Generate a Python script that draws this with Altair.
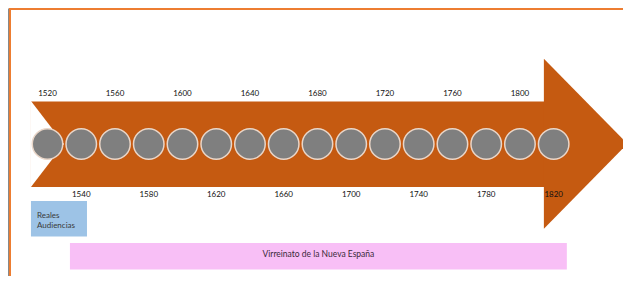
import altair as alt
import pandas as pd

# --- data ---
years = [1520, 1540, 1560, 1580, 1600, 1620, 1640, 1660,
         1680, 1700, 1720, 1740, 1760, 1780, 1800, 1820]
top_years = [1520, 1560, 1600, 1640, 1680, 1720, 1760, 1800]
bottom_years = [1540, 1580, 1620, 1660, 1700, 1740, 1780, 1820]

period_names = ["Reales Audiencias", "Virreinato de la Nueva España"]
period_start = [1510.2, 1533.3]
period_end = [1543.4, 1827.8]

# arrow extent (in years)
arrow_start = [1510.2]
arrow_head = [1814.2]

W, H = 615, 268
xs = alt.Scale(domain=[1496.59, 1861.08], nice=False, zero=False)
ys = alt.Scale(domain=[8, 276], reverse=True, nice=False, zero=False)

arrow_df = pd.DataFrame({"start": arrow_start, "head": arrow_head})
years_df = pd.DataFrame({"year": years})
top_df = pd.DataFrame({"year": top_years})
bot_df = pd.DataFrame({"year": bottom_years})
per_df = pd.DataFrame({"name": period_names, "start": period_start, "end": period_end})

ARROW = "#c55a11"
body = alt.Chart(arrow_df).transform_calculate(
    overlap="datum.head + 3"
).mark_rect(color=ARROW, opacity=1).encode(
    x=alt.X("start:Q", scale=xs, axis=None), x2="overlap:Q",
    y=alt.datum(101.5, scale=ys), y2=alt.datum(187),
)
head = alt.Chart(arrow_df).mark_point(
    shape="M0,-1L0.982,0L0,1Z", size=170 * 170, filled=True,
    color=ARROW, opacity=1, strokeWidth=0
).encode(
    x=alt.X("head:Q", scale=xs, axis=None),
    y=alt.datum(143.8, scale=ys),
)
notch = alt.Chart(arrow_df).mark_point(
    shape="M0,-1L0.767,0L0,1Z", size=86 * 86, filled=True,
    color="#ffffff", opacity=1, strokeWidth=0
).encode(
    x=alt.X("start:Q", scale=xs, axis=None),
    y=alt.datum(144, scale=ys),
)

circles = alt.Chart(years_df).mark_circle(
    size=930, color="#7f7f7f", opacity=1, stroke="#ead6c8", strokeWidth=1.5
).encode(
    x=alt.X("year:Q", scale=xs, axis=None),
    y=alt.datum(144, scale=ys),
)

label_style = dict(font="Lato", fontSize=8, color="#111111", align="center", baseline="middle")
top_labels = alt.Chart(top_df).mark_text(**label_style).encode(
    x=alt.X("year:Q", scale=xs, axis=None),
    y=alt.datum(93.5, scale=ys),
    text="year:N",
)
bot_labels = alt.Chart(bot_df).mark_text(**label_style).encode(
    x=alt.X("year:Q", scale=xs, axis=None),
    y=alt.datum(195, scale=ys),
    text="year:N",
)

blue = alt.Chart(per_df.iloc[[0]]).mark_rect(color="#9dc3e6", opacity=1).encode(
    x=alt.X("start:Q", scale=xs, axis=None), x2="end:Q",
    y=alt.datum(201, scale=ys), y2=alt.datum(236.5),
)
blue_text = alt.Chart(per_df.iloc[[0]]).transform_calculate(
    lbl="split(datum.name, ' ')"
).mark_text(font="Lato", fontSize=8, color="#3a3a3a", align="left",
            baseline="middle", dx=6, lineHeight=10.5).encode(
    x=alt.X("start:Q", scale=xs, axis=None),
    y=alt.datum(215.5, scale=ys),
    text="lbl:N",
)
pink = alt.Chart(per_df.iloc[[1]]).mark_rect(color="#f8bff6", opacity=1).encode(
    x=alt.X("start:Q", scale=xs, axis=None), x2="end:Q",
    y=alt.datum(243, scale=ys), y2=alt.datum(269.5),
)
pink_text = alt.Chart(per_df.iloc[[1]]).transform_calculate(
    mid="(datum.start + datum.end) / 2"
).mark_text(font="Lato", fontSize=8.5, color="#3a2a3a", align="center",
            baseline="middle").encode(
    x=alt.X("mid:Q", scale=xs, axis=None),
    y=alt.datum(254, scale=ys),
    text="name:N",
)

frame_left = alt.Chart(years_df).mark_rule(color="#ed7d31", strokeWidth=2).encode(
    x=alt.value(2), y=alt.value(0), y2=alt.value(H)
)
frame_top = alt.Chart(years_df).mark_rule(color="#ed7d31", strokeWidth=2).encode(
    x=alt.value(1), x2=alt.value(W), y=alt.value(1)
)

chart = alt.layer(
    frame_left, frame_top, body, head, notch, circles, top_labels, bot_labels,
    blue, blue_text, pink, pink_text
).properties(
    width=W, height=H, padding=0,
    autosize=alt.AutoSizeParams(type="none"),
    background="#ffffff",
).configure_view(stroke=None)

chart.save("out.html", embed_options={"renderer": "svg", "actions": False})
